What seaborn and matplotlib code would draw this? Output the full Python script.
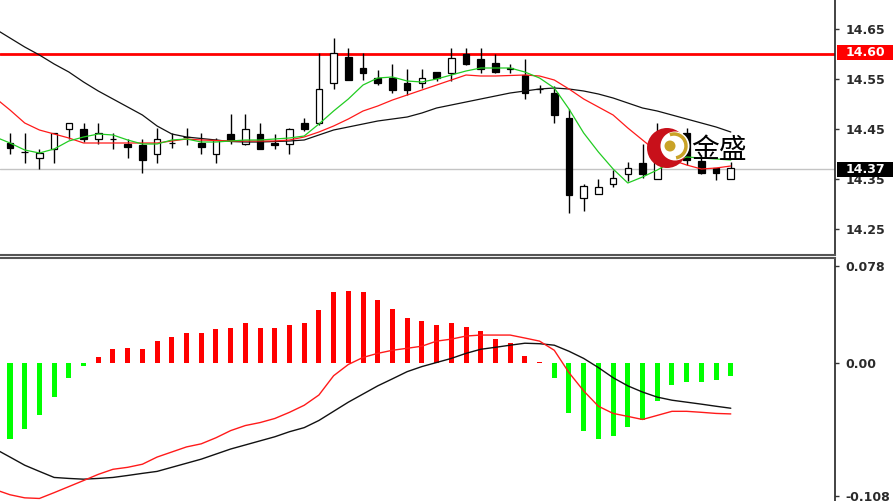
import numpy as np
import pandas as pd
import matplotlib
matplotlib.use("Agg")
import matplotlib.pyplot as plt
import seaborn as sns
from matplotlib.patches import Circle, Arc, Rectangle
from matplotlib.transforms import IdentityTransform

# ---------------- data ----------------
opens = [14.422, 14.403, 14.391, 14.411, 14.450, 14.449, 14.429, 14.430, 14.419, 14.418,
         14.400, 14.422, 14.434, 14.421, 14.400, 14.440, 14.421, 14.440, 14.422, 14.421,
         14.461, 14.461, 14.541, 14.593, 14.571, 14.551, 14.551, 14.541, 14.541, 14.563,
         14.561, 14.600, 14.591, 14.581, 14.571, 14.558, 14.529, 14.521, 14.471, 14.311,
         14.320, 14.340, 14.360, 14.381, 14.350, 14.412, 14.441, 14.385, 14.371, 14.350]
highs = [14.443, 14.443, 14.411, 14.443, 14.462, 14.463, 14.461, 14.441, 14.429, 14.429,
         14.451, 14.442, 14.451, 14.441, 14.433, 14.480, 14.480, 14.461, 14.439, 14.452,
         14.471, 14.601, 14.631, 14.611, 14.601, 14.567, 14.581, 14.571, 14.571, 14.563,
         14.611, 14.611, 14.611, 14.600, 14.581, 14.591, 14.538, 14.535, 14.489, 14.340,
         14.350, 14.369, 14.385, 14.419, 14.463, 14.441, 14.451, 14.398, 14.373, 14.385]
lows = [14.401, 14.381, 14.370, 14.381, 14.431, 14.423, 14.421, 14.411, 14.391, 14.361,
        14.381, 14.412, 14.418, 14.400, 14.381, 14.421, 14.418, 14.410, 14.411, 14.400,
        14.445, 14.458, 14.529, 14.547, 14.549, 14.539, 14.521, 14.518, 14.531, 14.545,
        14.545, 14.578, 14.561, 14.561, 14.561, 14.511, 14.521, 14.461, 14.281, 14.285,
        14.320, 14.333, 14.345, 14.351, 14.350, 14.395, 14.378, 14.360, 14.348, 14.350]
closes = [14.412, 14.403, 14.401, 14.441, 14.461, 14.429, 14.441, 14.429, 14.413, 14.388,
          14.429, 14.422, 14.434, 14.413, 14.428, 14.428, 14.450, 14.411, 14.418, 14.450,
          14.450, 14.529, 14.601, 14.549, 14.561, 14.541, 14.528, 14.528, 14.551, 14.551,
          14.591, 14.580, 14.571, 14.563, 14.571, 14.521, 14.529, 14.478, 14.318, 14.335,
          14.333, 14.351, 14.371, 14.359, 14.385, 14.428, 14.388, 14.362, 14.361, 14.373]

# indicator lines start one bar earlier (that bar itself is just off the left edge)
ma_fast = [14.434, 14.422, 14.408, 14.402, 14.410, 14.426, 14.434, 14.440, 14.438, 14.428, 14.420,
           14.420, 14.428, 14.430, 14.424, 14.424, 14.426, 14.428, 14.428, 14.430, 14.432,
           14.436, 14.460, 14.486, 14.510, 14.538, 14.552, 14.554, 14.546, 14.544, 14.550,
           14.558, 14.566, 14.572, 14.572, 14.572, 14.564, 14.552, 14.532, 14.490, 14.442,
           14.404, 14.370, 14.342, 14.354, 14.368, 14.384, 14.394, 14.392, 14.390, 14.388]
ma_mid = [14.512, 14.488, 14.462, 14.448, 14.440, 14.432, 14.422, 14.422, 14.422, 14.422, 14.422,
          14.422, 14.426, 14.430, 14.428, 14.427, 14.426, 14.426, 14.426, 14.426, 14.428,
          14.434, 14.444, 14.456, 14.470, 14.486, 14.496, 14.508, 14.518, 14.528, 14.538,
          14.548, 14.558, 14.556, 14.556, 14.557, 14.558, 14.556, 14.548, 14.530, 14.510,
          14.494, 14.478, 14.452, 14.428, 14.404, 14.388, 14.378, 14.370, 14.372, 14.376]
ma_slow = [14.650, 14.632, 14.614, 14.598, 14.580, 14.564, 14.544, 14.526, 14.510, 14.494, 14.478,
           14.456, 14.440, 14.434, 14.431, 14.428, 14.425, 14.424, 14.424, 14.425, 14.426,
           14.428, 14.438, 14.448, 14.454, 14.460, 14.466, 14.470, 14.474, 14.482, 14.492,
           14.498, 14.504, 14.510, 14.516, 14.522, 14.526, 14.530, 14.532, 14.530, 14.526,
           14.520, 14.512, 14.502, 14.492, 14.486, 14.478, 14.470, 14.462, 14.454, 14.444]

dif = [-0.1029, -0.1070, -0.1095, -0.1100, -0.1053, -0.1004, -0.0955, -0.0905, -0.0864, -0.0848, -0.0823,
       -0.0765, -0.0724, -0.0683, -0.0658, -0.0609, -0.0551, -0.0510, -0.0486, -0.0453, -0.0403,
       -0.0346, -0.0263, -0.0107, -0.0016, 0.0041, 0.0074, 0.0099, 0.0115, 0.0132, 0.0173,
       0.0189, 0.0214, 0.0222, 0.0222, 0.0222, 0.0198, 0.0173, 0.0099, -0.0082, -0.0230,
       -0.0354, -0.0412, -0.0436, -0.0461, -0.0428, -0.0395, -0.0395, -0.0403, -0.0412, -0.0416]
dea = [-0.0700, -0.0765, -0.0831, -0.0881, -0.0930, -0.0938, -0.0944, -0.0938, -0.0930, -0.0914, -0.0897,
       -0.0881, -0.0848, -0.0815, -0.0782, -0.0741, -0.0700, -0.0667, -0.0634, -0.0601, -0.0560,
       -0.0527, -0.0469, -0.0395, -0.0321, -0.0255, -0.0189, -0.0132, -0.0074, -0.0033, 0.0000,
       0.0033, 0.0074, 0.0107, 0.0123, 0.0140, 0.0156, 0.0152, 0.0140, 0.0091, 0.0033,
       -0.0041, -0.0123, -0.0189, -0.0239, -0.0280, -0.0305, -0.0321, -0.0337, -0.0354, -0.0370]
macd_hist = [-0.0615, -0.0535, -0.0425, -0.0280, -0.0123, -0.0027, 0.0047, 0.0107, 0.0119, 0.0107,
             0.0170, 0.0206, 0.0242, 0.0242, 0.0267, 0.0280, 0.0316, 0.0280, 0.0280, 0.0302,
             0.0316, 0.0423, 0.0571, 0.0582, 0.0571, 0.0508, 0.0436, 0.0362, 0.0337, 0.0302,
             0.0316, 0.0288, 0.0253, 0.0193, 0.0156, 0.0055, 0.0008, -0.0123, -0.0412, -0.0556,
             -0.0622, -0.0595, -0.0521, -0.0466, -0.0315, -0.0178, -0.0156, -0.0156, -0.0142, -0.0109]

price_ticks = [14.25, 14.35, 14.45, 14.55, 14.65]
price_tick_labels = ["14.25", "14.35", "14.45", "14.55", "14.65"]
macd_ticks = [-0.108, 0.0, 0.078]
macd_tick_labels = ["-0.108", "0.00", "0.078"]
resistance = 14.60
resistance_label = "14.60"
last_price = 14.37
last_label = "14.37"
logo_text = "金盛"

# ---------------- figure ----------------
sns.set_theme(style="white")
plt.rcParams["font.family"] = ["DejaVu Sans"]

W, H = 893, 501
fig = plt.figure(figsize=(W / 100, H / 100), dpi=100)
fig.patch.set_facecolor("white")

axr = 835 / W
ax1 = fig.add_axes([0, (H - 254.5) / H, axr, 254.5 / H])
ax2 = fig.add_axes([0, 0, axr, (H - 257.5) / H])

idx = np.arange(len(opens))
line_idx = np.arange(-1, len(opens))
step = 14.71
xlim = (-10 / step, (835 - 10) / step)

# --- price panel ---
ax1.axhline(last_price, color="#c4c4c4", lw=1.0, zorder=0.5)
ax1.axhline(resistance, color="#ff0000", lw=2.0, zorder=1.5)

o = np.array(opens); c = np.array(closes)
ax1.vlines(idx, lows, highs, color="black", lw=1.0, zorder=3)
bottoms = np.minimum(o, c)
heights = np.maximum(np.abs(c - o), 0.0004)
faces = ["white" if cc >= oo else "black" for oo, cc in zip(o, c)]
ax1.bar(idx, heights, bottom=bottoms, width=0.45, color=faces,
        edgecolor="black", linewidth=0.9, zorder=4)

ma_df = pd.DataFrame({"i": line_idx, "fast": ma_fast, "mid": ma_mid, "slow": ma_slow})
sns.lineplot(data=ma_df, x="i", y="slow", ax=ax1, color="#111111", lw=0.9, zorder=5)
sns.lineplot(data=ma_df, x="i", y="mid", ax=ax1, color="#ff1a1a", lw=0.9, zorder=5)
sns.lineplot(data=ma_df, x="i", y="fast", ax=ax1, color="#22cc22", lw=0.9, zorder=5)

ax1.set_xlim(*xlim)
ax1.set_ylim(14.708 - 254.5 * 0.002, 14.708)

# --- MACD panel ---
hist_df = pd.DataFrame({"i": idx, "v": macd_hist,
                        "s": ["up" if v >= 0 else "down" for v in macd_hist]})
sns.barplot(data=hist_df, x="i", y="v", hue="s", native_scale=True, dodge=False,
            palette={"up": "#ff0000", "down": "#00ff00"}, width=0.34,
            saturation=1, linewidth=0, legend=False, ax=ax2, zorder=2)
macd_df = pd.DataFrame({"i": line_idx, "dif": dif, "dea": dea})
sns.lineplot(data=macd_df, x="i", y="dea", ax=ax2, color="#111111", lw=1.0, zorder=4)
sns.lineplot(data=macd_df, x="i", y="dif", ax=ax2, color="#ff1a1a", lw=1.0, zorder=4)

ax2.set_xlim(*xlim)
ppu = 1236.0
zero_px = 362.5
ax2.set_ylim((zero_px - 501) / ppu, (zero_px - 257.5) / ppu)

# --- axes styling ---
for ax, ticks, labels in ((ax1, price_ticks, price_tick_labels),
                          (ax2, macd_ticks, macd_tick_labels)):
    ax.set_facecolor("white")
    ax.set_xlabel(""); ax.set_ylabel("")
    ax.set_xticks([])
    ax.yaxis.tick_right()
    ax.set_yticks(ticks)
    ax.set_yticklabels(labels)
    ax.tick_params(axis="y", which="both", direction="out", length=3, width=1,
                   color="#333333", labelcolor="#2a2a2a", labelsize=9, pad=4.5,
                   right=True, left=False)
    for lab in ax.get_yticklabels():
        lab.set_fontweight("bold")
    ax.spines["left"].set_visible(False)
    ax.spines["right"].set_color("#222222")
    ax.spines["right"].set_linewidth(1.2)
    ax.grid(False)

ax1.spines["top"].set_visible(False)
ax1.spines["bottom"].set_color("#555555")
ax1.spines["bottom"].set_linewidth(1.5)
ax2.spines["bottom"].set_visible(False)
ax2.spines["top"].set_color("#555555")
ax2.spines["top"].set_linewidth(1.5)

# --- highlighted price labels ---
ident = IdentityTransform()
def tag(y_top, y_bot, text, face):
    fig.add_artist(Rectangle((837, H - y_bot), W - 837, y_bot - y_top,
                             facecolor=face, edgecolor="none", transform=ident, zorder=5))
    fig.text(846, H - (y_top + y_bot) / 2, text, color="white", fontsize=9,
             fontweight="bold", va="center", ha="left", transform=ident, zorder=6)

tag(44.5, 60, resistance_label, "#ff0000")
tag(161.5, 177, last_label, "black")

# --- logo ---
fig.add_artist(Circle((667, H - 148), 20, facecolor="#c8101a", edgecolor="none",
                      transform=ident, zorder=7))
fig.add_artist(Circle((675, H - 146), 14.5, facecolor="white", edgecolor="none",
                      transform=ident, zorder=8))
fig.add_artist(Arc((674, H - 146), 24, 24, theta1=-80, theta2=110, color="#c9a227",
                   lw=2.5, transform=ident, zorder=9))
fig.add_artist(Circle((670, H - 146), 5.5, facecolor="#c9a227", edgecolor="none",
                      transform=ident, zorder=9))
fig.text(691, H - 150, logo_text, fontsize=20, color="black",
         family=["Noto Sans CJK SC", "DejaVu Sans"], va="center", ha="left",
         transform=ident, zorder=10)

fig.savefig("out.png", dpi=100)
